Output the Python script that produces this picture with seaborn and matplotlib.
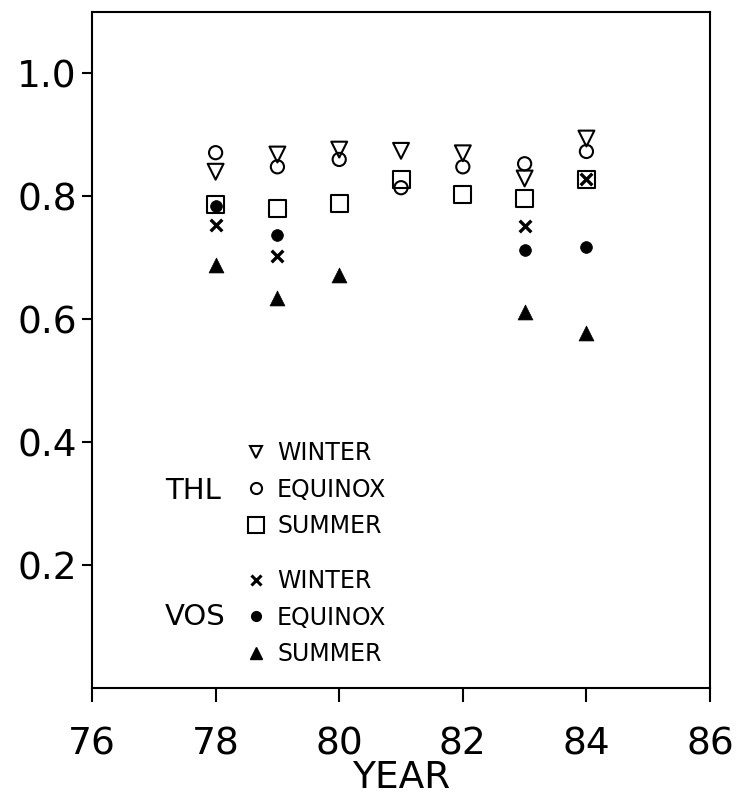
import matplotlib
matplotlib.use("Agg")
import matplotlib.pyplot as plt
from matplotlib.lines import Line2D
import seaborn as sns

# Normalised values by year for the two stations and three seasons
years = [78, 79, 80, 81, 82, 83, 84]
thl_winter = [0.840, 0.868, 0.876, 0.874, 0.870, 0.829, 0.894]
thl_equinox = [0.871, 0.848, 0.860, 0.814, 0.848, 0.853, 0.873]
thl_summer = [0.787, 0.780, 0.789, 0.828, 0.803, 0.796, 0.828]

vos_winter_years = [78, 79, 83, 84]
vos_winter = [0.753, 0.703, 0.751, 0.828]
vos_equinox_years = [78, 79, 83, 84]
vos_equinox = [0.784, 0.737, 0.713, 0.717]
vos_summer_years = [78, 79, 80, 83, 84]
vos_summer = [0.688, 0.635, 0.672, 0.612, 0.578]

x_ticks = [76, 78, 80, 82, 84, 86]
y_ticks = [0.2, 0.4, 0.6, 0.8, 1.0]
season_labels = ["WINTER", "EQUINOX", "SUMMER"]

sns.set_style("ticks")
plt.rcParams["font.family"] = ["DejaVu Sans"]
plt.rcParams["text.color"] = "black"
plt.rcParams["axes.labelcolor"] = "black"

fig = plt.figure(figsize=(7.39, 7.96), dpi=100)
ax = fig.add_axes([0.1245, 0.1357, 0.8363, 0.8493])

lw = 1.5
open_kw = dict(facecolor="none", edgecolor="black", linewidth=lw, zorder=3)
fill_kw = dict(color="black", edgecolor="black", linewidth=0.5, zorder=3)

sns.scatterplot(x=years, y=thl_summer, marker="s", s=150, ax=ax, **open_kw)
sns.scatterplot(x=years, y=thl_equinox, marker="o", s=90, ax=ax, **open_kw)
sns.scatterplot(x=years, y=thl_winter, marker="v", s=130, ax=ax, **open_kw)
sns.scatterplot(x=vos_winter_years, y=vos_winter, marker="x", s=70,
                color="black", linewidth=2.4, ax=ax, zorder=4)
sns.scatterplot(x=vos_equinox_years, y=vos_equinox, marker="o", s=72, ax=ax, **fill_kw)
sns.scatterplot(x=vos_summer_years, y=vos_summer, marker="^", s=115, ax=ax, **fill_kw)

ax.set_xlim(76, 86)
ax.set_ylim(0, 1.1)
ax.set_xticks(x_ticks)
ax.set_xticklabels([str(t) for t in x_ticks])
ax.set_yticks(y_ticks)
ax.set_yticklabels([f"{t:.1f}" for t in y_ticks])
ax.tick_params(axis="both", direction="out", width=1.5,
               labelsize=27, colors="black")
ax.tick_params(axis="x", length=10, pad=18)
ax.tick_params(axis="y", length=7, pad=4)
for sp in ax.spines.values():
    sp.set_visible(True)
    sp.set_linewidth(1.5)
    sp.set_color("black")
ax.set_xlabel("YEAR", fontsize=27, labelpad=-2)
ax.set_ylabel("")

# Legend blocks, one per station
leg_font = 17
thl_handles = [
    Line2D([], [], ls="", marker="v", ms=8.6, mfc="none", mec="black", mew=lw),
    Line2D([], [], ls="", marker="o", ms=8.0, mfc="none", mec="black", mew=lw),
    Line2D([], [], ls="", marker="s", ms=11.0, mfc="none", mec="black", mew=lw),
]
vos_handles = [
    Line2D([], [], ls="", marker="x", ms=7.0, mec="black", mew=2.2),
    Line2D([], [], ls="", marker="o", ms=7.0, mfc="black", mec="black"),
    Line2D([], [], ls="", marker="^", ms=8.6, mfc="black", mec="black"),
]
leg_kw = dict(loc="upper left", frameon=False, fontsize=leg_font, borderpad=0,
              borderaxespad=0, handlelength=1.0, handletextpad=0.4,
              labelspacing=0.53, labelcolor="black")
leg1 = ax.legend(thl_handles, season_labels, bbox_to_anchor=(0.246, 0.365), **leg_kw)
ax.add_artist(leg1)
ax.legend(vos_handles, season_labels, bbox_to_anchor=(0.246, 0.176), **leg_kw)

ax.text(0.118, 0.291, "THL", transform=ax.transAxes, fontsize=21,
        va="center", ha="left")
ax.text(0.118, 0.105, "VOS", transform=ax.transAxes, fontsize=21,
        va="center", ha="left")

fig.savefig("out.png", dpi=100)
